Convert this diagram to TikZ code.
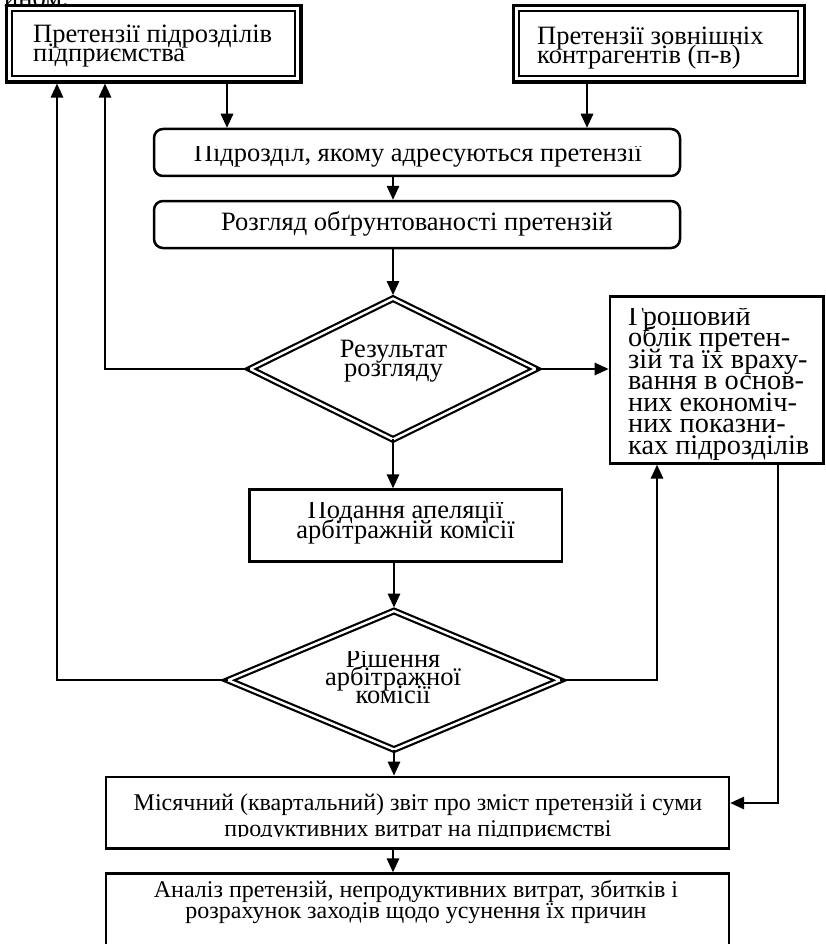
\documentclass[tikz,border=0pt]{standalone}
\usepackage{fontspec}
\setmainfont{Liberation Serif}
\usetikzlibrary{arrows.meta,shapes.geometric}

% stacked lines with a fixed baseline distance (centred / flush left)
\newcommand\lnsC[2]{\vtop{\baselineskip=#1\lineskiplimit=-\maxdimen\halign{\hfil##\hfil\cr#2\crcr}}}
\newcommand\lnsL[2]{\vtop{\baselineskip=#1\lineskiplimit=-\maxdimen\halign{##\hfil\cr#2\crcr}}}

\tikzset{
  every node/.style={inner sep=0pt},
  big/.style={font=\fontsize{26.5}{19}\selectfont},
  side/.style={font=\fontsize{28.3}{21}\selectfont},
  small/.style={font=\fontsize{24}{22}\selectfont},
  conn/.style={line width=1.6pt,-{Triangle[length=14pt,width=12.5pt]}},
  outerframe/.style={draw,line width=3.2pt},
  innerframe/.style={draw,line width=2pt},
  roundbox/.style={draw,line width=2.5pt,rounded corners=9pt},
  plainbox/.style={draw,line width=2.4pt},
  decision/.style={draw,shape=diamond,line width=2.2pt,double,double distance=2.4pt,outer sep=0pt},
}

\begin{document}
\begin{tikzpicture}[x=1pt,y=-1pt]
\useasboundingbox (0,0) rectangle (825,944);
\fill[white] (0,0) rectangle (825,944);
\clip (0,0) rectangle (825,944);

% tail of the preceding line of text
\node[big,anchor=base west] (tail) at (4,7) {ином.};

% sources of claims
\node[outerframe,minimum width=294.5pt,minimum height=76.5pt] (b1) at (153.75,43.75) {};
\node[innerframe,minimum width=283pt,minimum height=65pt] (b1i) at (b1) {};
\node[big,anchor=base west] (b1t) at (33,43) {\lnsL{19pt}{Претензії підрозділів\cr підприємства}};

\node[outerframe,minimum width=291pt,minimum height=76.5pt] (b2) at (658.8,43.75) {};
\node[innerframe,minimum width=279pt,minimum height=65pt] (b2i) at (b2) {};
\node[big,anchor=base west] (b2t) at (537,45) {\lnsL{18.5pt}{Претензії зовнішніх\cr контрагентів (п-в)}};

% processing steps (text frames cut the glyphs at their edges)
\node[roundbox,minimum width=526pt,minimum height=47pt] (r1) at (417,152.5) {};
\begin{scope}
  \clip (154,146.5) rectangle (680,176);
  \node[big,anchor=base] (r1t) at (418,162) {Підрозділ, якому адресуються претензії};
\end{scope}

\node[roundbox,minimum width=526pt,minimum height=47pt] (r2) at (417,224.5) {};
\node[big,anchor=base] (r2t) at (417,230) {Розгляд обґрунтованості претензій};

\node[decision,minimum width=285.6pt,minimum height=140.8pt] (d1) at (393,369) {};
\node[big,anchor=base] (d1t) at (393.5,357.3) {\lnsC{19.4pt}{Результат\cr розгляду}};

\node[plainbox,line width=2.7pt,minimum width=213.3pt,minimum height=166.7pt] (rb) at (716.6,380) {};
\begin{scope}
  \clip (610,308.3) rectangle (822,462);
  \node[side,anchor=base west] (rbt) at (628,325) {\lnsL{21.55pt}{Грошовий\cr облік претен-\cr зій та їх враху-\cr вання в основ-\cr них економіч-\cr них показни-\cr ках підрозділів}};
\end{scope}

\node[plainbox,minimum width=312.5pt,minimum height=71.8pt] (pd) at (405.75,525.4) {};
\begin{scope}
  \clip (251,502.8) rectangle (561,560);
  \node[big,anchor=base] (pdt) at (405.5,518.3) {\lnsC{20pt}{Подання апеляції\cr арбітражній комісії}};
\end{scope}

\node[decision,minimum width=331.6pt,minimum height=138.5pt] (d2) at (394,680.25) {};
\begin{scope}
  \clip (240,651.5) rectangle (550,750);
  \node[big,anchor=base] (d2t) at (393,667) {\lnsC{18.3pt}{Рішення\cr арбітражної\cr комісії}};
\end{scope}

\node[plainbox,minimum width=623pt,minimum height=71.8pt] (m) at (417.5,812.6) {};
\begin{scope}
  \clip (107,778) rectangle (728,836.8);
  \node[small,anchor=base] (mt) at (418,810) {\lnsC{26pt}{Місячний (квартальний) звіт про зміст претензій і суми\cr продуктивних витрат на підприємстві}};
\end{scope}

\node[plainbox,minimum width=623pt,minimum height=106.5pt] (an) at (417.5,926.75) {};
\node[small,anchor=base] (ant) at (416,897.5) {\lnsC{21pt}{Аналіз претензій, непродуктивних витрат, збитків і\cr розрахунок заходів щодо усунення їх причин}};

% columns of the connectors
\coordinate (xA) at (227,0);
\coordinate (xB) at (587,0);
\coordinate (xC) at (393,0);
\coordinate (xE) at (105,0);
\coordinate (xF) at (57,0);
\coordinate (xG) at (657,0);
\coordinate (xH) at (778,0);
\coordinate (yM) at (0,803);

% connectors
\draw[conn] (b1.south -| xA) -- (r1.north -| xA);
\draw[conn] (b2.south -| xB) -- (r1.north -| xB);
\draw[conn] (r1.south -| xC) -- (r2.north -| xC);
\draw[conn,shorten >=3.6pt] (r2.south -| d1.north) -- (d1.north);
\draw[conn] (d1.east) -- (rb.west |- d1.east);
\draw[conn] (d1.west) -- (xE |- d1.west) -- (b1.south -| xE);
\draw[conn] (d1.south) -- (pd.north -| d1.south);
\draw[conn,shorten >=3.5pt] (pd.south -| d2.north) -- (d2.north);
\draw[conn] (d2.west) -- (xF |- d2.west) -- (b1.south -| xF);
\draw[conn] (d2.east) -- (xG |- d2.east) -- (rb.south -| xG);
\draw[conn] (d2.south) -- (m.north -| d2.south);
\draw[conn] (rb.south -| xH) -- (xH |- yM) -- (m.east |- yM);
\draw[conn] (m.south -| xC) -- (an.north -| xC);
\end{tikzpicture}
\end{document}
